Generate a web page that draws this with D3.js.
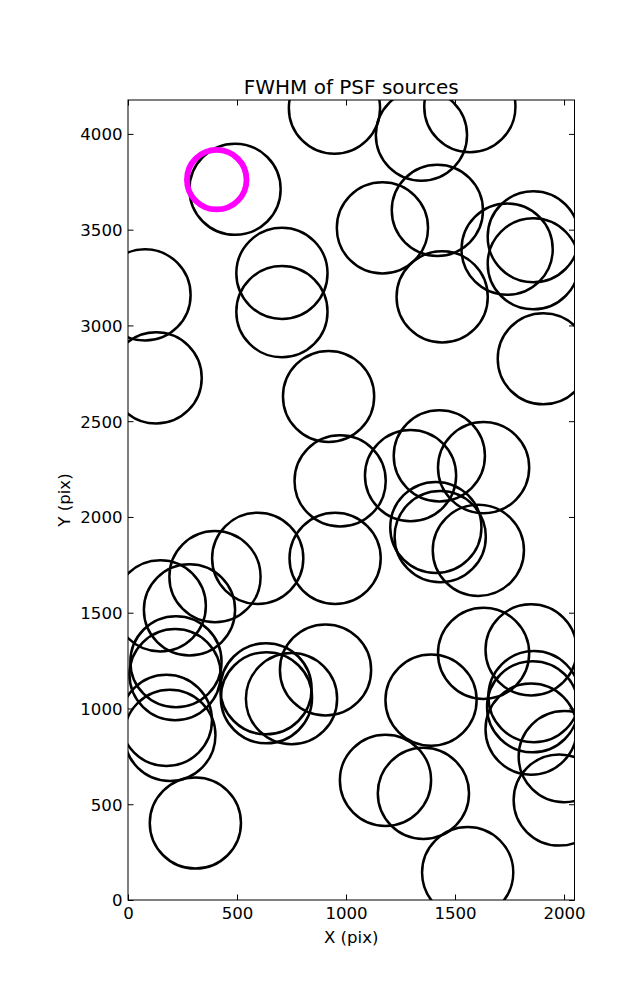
<!DOCTYPE html>
<html>
<head>
<meta charset="utf-8">
<script src="https://cdnjs.cloudflare.com/ajax/libs/d3/7.8.5/d3.min.js"></script>
<style>
  html, body { margin: 0; padding: 0; background: #fff; }
  text { font-family: "DejaVu Sans", sans-serif; fill: #000; }
</style>
</head>
<body>
<script>
// PSF source positions (pix)
const srcX = [947, 1346, 1568, 491, 1167, 1419, 1739, 1859, 1859, 706, 706, 78, 1441, 129, 920, 1905,
  973, 1296, 1428, 1631, 1412, 1432, 1607, 950, 595, 399, 148, 282, 220, 216, 633, 635, 750, 906,
  1631, 1849, 1390, 1862, 1856, 1849, 176, 192, 309, 1181, 1355, 1558, 2001, 1978];
const srcY = [4134, 3994, 4142, 3711, 3509, 3601, 3398, 3463, 3322, 3272, 3072, 3159, 3149, 2726, 2629, 2826,
  2188, 2216, 2319, 2258, 1945, 1897, 1826, 1784, 1784, 1688, 1536, 1515, 1244, 1177, 1103, 1056, 1051, 1201,
  1288, 1306, 1044, 1062, 1009, 892, 938, 860, 402, 625, 557, 143, 749, 522];
// highlighted source
const hiX = [407];
const hiY = [3761];

const xTicks = [0, 500, 1000, 1500, 2000];
const yTicks = [0, 500, 1000, 1500, 2000, 2500, 3000, 3500, 4000];
const xDomain = [0, 2048];
const yDomain = [0, 4177];

const W = 637, H = 1000;
const L = 128, R = 574.5, T = 100, B = 900;

const svg = d3.select("body").append("svg").attr("width", W).attr("height", H);

const x = d3.scaleLinear().domain(xDomain).range([L, R]);
const y = d3.scaleLinear().domain(yDomain).range([B, T]);

svg.append("defs").append("clipPath").attr("id", "clip")
  .append("rect").attr("x", L).attr("y", T).attr("width", R - L).attr("height", B - T);

const g = svg.append("g").attr("clip-path", "url(#clip)");

g.selectAll("circle.src").data(srcX.map((v, i) => [v, srcY[i]])).join("circle")
  .attr("class", "src")
  .attr("cx", d => x(d[0])).attr("cy", d => y(d[1])).attr("r", 45.6)
  .attr("fill", "none").attr("stroke", "#000").attr("stroke-width", 2.5);

g.selectAll("circle.hi").data(hiX.map((v, i) => [v, hiY[i]])).join("circle")
  .attr("class", "hi")
  .attr("cx", d => x(d[0])).attr("cy", d => y(d[1])).attr("r", 29.8)
  .attr("fill", "none").attr("stroke", "#ff00ff").attr("stroke-width", 5.8);

// frame
svg.append("rect").attr("x", L).attr("y", T).attr("width", R - L).attr("height", B - T)
  .attr("fill", "none").attr("stroke", "#000").attr("stroke-width", 1);

const tl = 5.5;
const fs = 16.6;
// axes ticks (inward, all sides)
const xb = svg.append("g").attr("transform", `translate(0,${B})`)
  .call(d3.axisBottom(x).tickValues(xTicks).tickSizeInner(-tl).tickSizeOuter(0).tickPadding(9).tickFormat(d3.format("d")));
const xt = svg.append("g").attr("transform", `translate(0,${T})`)
  .call(d3.axisTop(x).tickValues(xTicks).tickSizeInner(-tl).tickSizeOuter(0).tickFormat(""));
const yl = svg.append("g").attr("transform", `translate(${L},0)`)
  .call(d3.axisLeft(y).tickValues(yTicks).tickSizeInner(-tl).tickSizeOuter(0).tickPadding(5).tickFormat(d3.format("d")));
const yr = svg.append("g").attr("transform", `translate(${R},0)`)
  .call(d3.axisRight(y).tickValues(yTicks).tickSizeInner(-tl).tickSizeOuter(0).tickFormat(""));

[xb, xt, yl, yr].forEach(a => {
  a.select(".domain").remove();
  a.selectAll("line").attr("stroke", "#000").attr("stroke-width", 1);
  a.selectAll("text").attr("font-family", "DejaVu Sans").attr("font-size", fs).attr("fill", "#000");
});
xb.selectAll("text").attr("dy", null).attr("y", 18.5);
yl.selectAll("text").attr("dy", "0.36em").attr("x", -5.5);

svg.append("text").attr("x", (L + R) / 2).attr("y", 93.5).attr("text-anchor", "middle")
  .attr("font-size", 20).text("FWHM of PSF sources");
svg.append("text").attr("x", (L + R) / 2).attr("y", 943).attr("text-anchor", "middle")
  .attr("font-size", fs).text("X (pix)");
svg.append("text").attr("transform", `translate(69.5,${(T + B) / 2}) rotate(-90)`).attr("text-anchor", "middle")
  .attr("font-size", fs).text("Y (pix)");
</script>
</body>
</html>
